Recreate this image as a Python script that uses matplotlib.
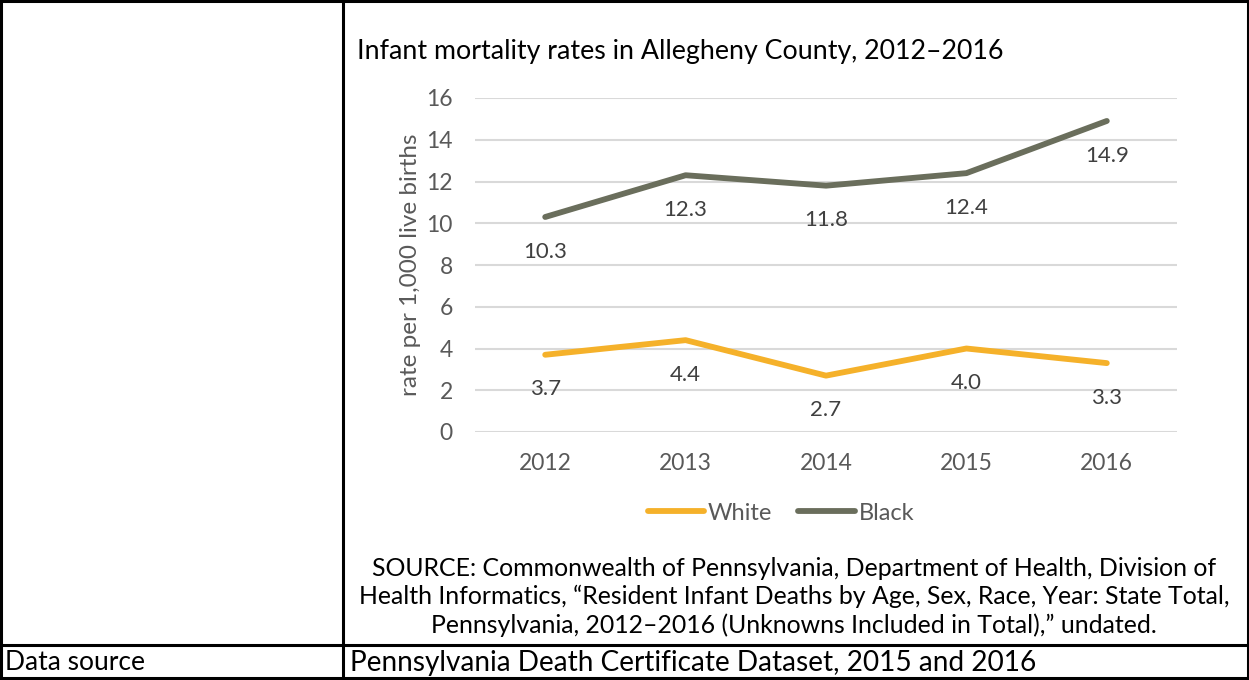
import matplotlib
matplotlib.use("Agg")
import matplotlib.pyplot as plt
from matplotlib.lines import Line2D

years = ["2012", "2013", "2014", "2015", "2016"]
white = [3.7, 4.4, 2.7, 4.0, 3.3]
black = [10.3, 12.3, 11.8, 12.4, 14.9]
yticks = [0, 2, 4, 6, 8, 10, 12, 14, 16]

title = "Infant mortality rates in Allegheny County, 2012\u20132016"
ylabel = "rate per 1,000 live births"
source_lines = [
    "SOURCE: Commonwealth of Pennsylvania, Department of Health, Division of",
    "Health Informatics, \u201cResident Infant Deaths by Age, Sex, Race, Year: State Total,",
    "Pennsylvania, 2012\u20132016 (Unknowns Included in Total),\u201d undated.",
]
row_label = "Data source"
row_value = "Pennsylvania Death Certificate Dataset, 2015 and 2016"

W, H = 1249, 680
plt.rcParams['font.family'] = ['Lato', 'DejaVu Sans']
fig = plt.figure(figsize=(W / 100, H / 100), dpi=100)
fig.patch.set_facecolor("white")

def fx(x):
    return x / W

def fy(y):
    return 1 - y / H

# table borders
lw = 2.2
for (x0, y0, x1, y1) in [(1, 1, 1248, 1), (1, 678, 1248, 678), (1, 1, 1, 678),
                          (1247.5, 1, 1247.5, 678), (342.5, 1, 342.5, 678),
                          (1, 645, 1248, 645)]:
    fig.add_artist(Line2D([fx(x0), fx(x1)], [fy(y0), fy(y1)], color="black", lw=lw,
                          solid_capstyle="projecting"))

# chart
left, right, top, bottom = 475, 1177, 98, 432
ax = fig.add_axes([fx(left), fy(bottom), fx(right - left), (bottom - top) / H])
xs = list(range(len(years)))
c_white = "#F5B12A"
c_black = "#6A6E5C"
ax.plot(xs, white, color=c_white, lw=4.2, solid_capstyle="round", solid_joinstyle="round", zorder=3)
ax.plot(xs, black, color=c_black, lw=4.2, solid_capstyle="round", solid_joinstyle="round", zorder=3)
for x, v in zip(xs, white):
    ax.annotate(f"{v:.1f}", (x, v), xytext=(0, -25), textcoords="offset points",
                ha="center", va="center", fontsize=16, color="#404040")
for x, v in zip(xs, black):
    ax.annotate(f"{v:.1f}", (x, v), xytext=(0, -25), textcoords="offset points",
                ha="center", va="center", fontsize=16, color="#404040")
ax.set_xlim(-0.5, len(years) - 0.5)
ax.set_ylim(0, 16)
ax.set_yticks(yticks)
ax.set_xticks(xs)
ax.set_xticklabels(years)
ax.grid(axis="y", color="#D9D9D9", lw=1.5)
ax.set_axisbelow(True)
for s in ax.spines.values():
    s.set_visible(False)
ax.tick_params(length=0, labelsize=16.5, labelcolor="#595959")
ax.tick_params(axis="y", pad=16)
ax.tick_params(axis="x", pad=15)
ax.set_ylabel(ylabel, fontsize=17.5, color="#595959", labelpad=4)

fig.text(fx(357), fy(52), title, fontsize=19.3, color="black", va="center", ha="left")

# legend
handles = [Line2D([], [], color=c_white, lw=4.2, solid_capstyle="round"),
           Line2D([], [], color=c_black, lw=4.2, solid_capstyle="round")]
fig.legend(handles, ["White", "Black"], loc="center", bbox_to_anchor=(fx(781), fy(513)),
           ncol=2, frameon=False, fontsize=17, handlelength=2.4, handletextpad=0.15,
           columnspacing=1.1, labelcolor="#595959")

for i, line in enumerate(source_lines):
    fig.text(fx(794), fy(568 + i * 28.5), line, fontsize=17.9, ha="center", va="center", color="black")

fig.text(fx(5), fy(663), row_label, fontsize=19, ha="left", va="center", color="black")
fig.text(fx(350), fy(663), row_value, fontsize=20.2, ha="left", va="center", color="black")

fig.savefig("out.png", dpi=100, facecolor="white")
